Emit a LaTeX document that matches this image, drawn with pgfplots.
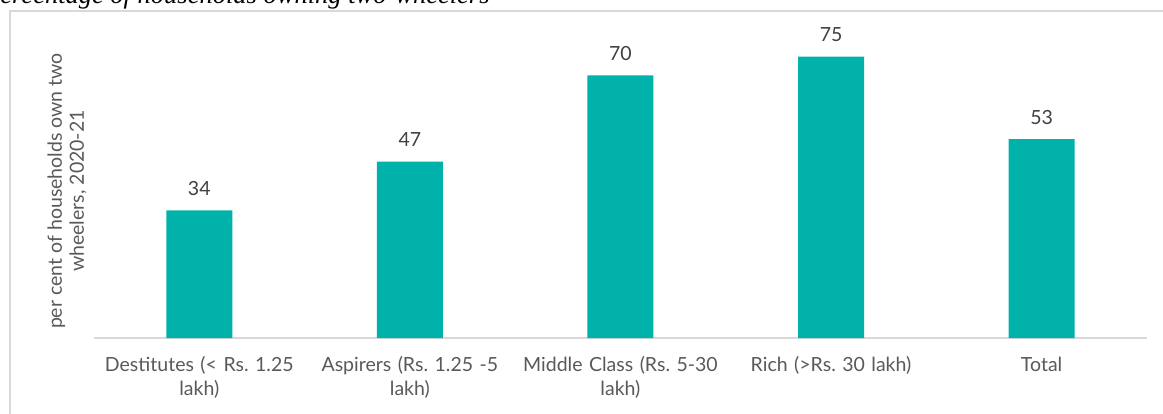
\documentclass[border=0pt]{standalone}
\usepackage{pgfplots}
\pgfplotsset{compat=1.18}
\usepackage{fontspec}
\setmainfont{Lato}
\newfontfamily\titlefont{Liberation Serif}
\definecolor{barteal}{HTML}{00B2A9}
\definecolor{txtgrey}{HTML}{595959}
\definecolor{numgrey}{HTML}{404040}
\definecolor{linegrey}{HTML}{D9D9D9}
\frenchspacing
\begin{document}
\begin{tikzpicture}[x=1pt,y=1pt]
\useasboundingbox (0,0) rectangle (1163,-414);
\clip (0,0) rectangle (1163,-414);
\node[anchor=base west,inner sep=0pt,font=\titlefont\itshape\fontsize{26.5}{30}\selectfont] at (-16,-4) {Percentage of households owning two-wheelers};
\draw[linegrey,line width=1.5pt] (10,-430) -- (10,-11) -- (1180,-11);
\begin{axis}[
  at={(94pt,-338pt)}, anchor=south west,
  scale only axis, width=1053pt, height=300pt,
  xmin=-0.5, xmax=4.5, ymin=0, ymax=80,
  axis x line*=bottom, axis y line=none,
  x axis line style={linegrey,line width=1.2pt,-},
  major tick length=0pt,
  xtick={0,1,2,3,4},
  xticklabels={{\strut Destitutes (< Rs. 1.25\\lakh)},{\strut Aspirers (Rs. 1.25 -5\\lakh)},{\strut Middle Class (Rs. 5-30\\lakh)},{\strut Rich (>Rs. 30 lakh)},{\strut Total}},
  xticklabel style={text width=210pt, align=center, anchor=north, inner sep=0pt, yshift=-16pt, text=txtgrey, font=\fontsize{19.5}{24.5}\selectfont},
  ytick=\empty,
  nodes near coords,
  nodes near coords style={anchor=base, yshift=15pt, text=numgrey, font=\fontsize{19.5}{22}\selectfont},
  point meta=explicit symbolic,
  clip=false,
]
\addplot[ybar, bar width=66pt, fill=barteal, draw=none] coordinates {
  (0,34) [34]
  (1,47) [47]
  (2,70) [70]
  (3,75) [75]
  (4,53) [53]
};
\end{axis}
\node[rotate=90, align=center, text=txtgrey, font=\fontsize{19.5}{22}\selectfont, inner sep=0pt] at (67,-191) {per cent of households own two\\wheelers, 2020-21};
\end{tikzpicture}
\end{document}
